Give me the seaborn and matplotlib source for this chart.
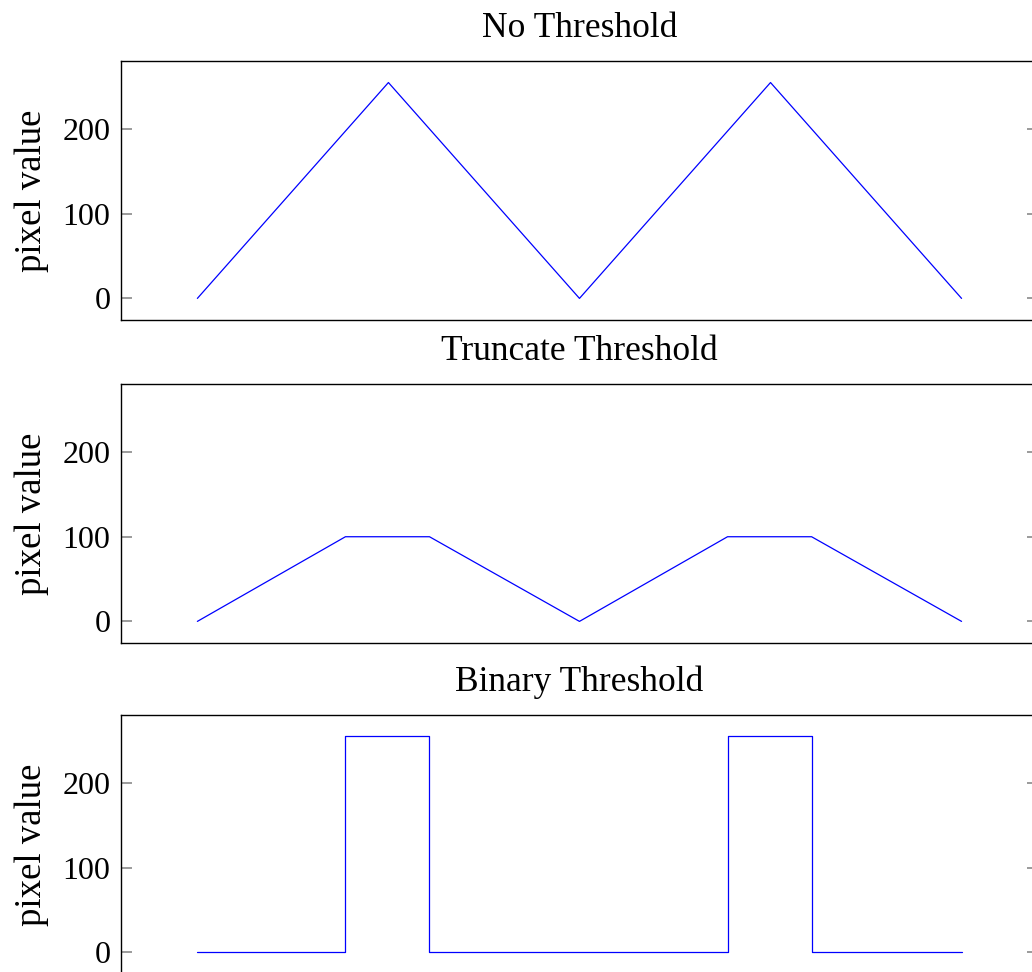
"""Pixel profile before and after thresholding, three stacked panels."""

import matplotlib

matplotlib.use("Agg")

import matplotlib.pyplot as plt
import pandas as pd
import seaborn as sns


# x positions along the scan line and the pixel value at each
NO_THRESH_X = [0, 1, 2, 3, 4]
NO_THRESH_Y = [0, 255, 0, 255, 0]

TRUNC_X = [0, 0.775, 1.215, 2, 2.775, 3.215, 4]
TRUNC_Y = [0, 100, 100, 0, 100, 100, 0]

BINARY_X = [0, 0.775, 0.775, 1.215, 1.215, 2.775, 2.775, 3.215, 3.215, 4]
BINARY_Y = [0, 0, 255, 255, 0, 0, 255, 255, 0, 0]

TITLES = ["No Threshold", "Truncate Threshold", "Binary Threshold"]
Y_TICKS = [0, 100, 200]

# axes boxes in figure fractions [left, bottom, width, height]
BOXES = [
    [0.1172, 0.6708, 0.8886, 0.2665],
    [0.1172, 0.3385, 0.8886, 0.2665],
    [0.1172, -0.002, 0.8886, 0.2665],
]


def main() -> None:
    sns.set_style("ticks")
    plt.rcParams["font.family"] = ["Liberation Serif", "DejaVu Serif"]
    plt.rcParams["text.color"] = "black"
    plt.rcParams["axes.labelcolor"] = "black"
    plt.rcParams["ytick.labelcolor"] = "black"

    series = [
        (NO_THRESH_X, NO_THRESH_Y),
        (TRUNC_X, TRUNC_Y),
        (BINARY_X, BINARY_Y),
    ]

    fig = plt.figure(figsize=(10.32, 9.72), dpi=100)
    for box, title, (xs, ys) in zip(BOXES, TITLES, series):
        ax = fig.add_axes(box)
        frame = pd.DataFrame({"x": xs, "y": ys})
        sns.lineplot(
            data=frame, x="x", y="y", ax=ax,
            estimator=None, sort=False, color="#0000ff", linewidth=0.9,
        )
        ax.set_xlim(-0.4, 4.4)
        ax.set_ylim(-25.5, 280.5)
        ax.set_xticks([])
        ax.set_yticks(Y_TICKS)
        ax.tick_params(
            axis="y", direction="in", left=True, right=True,
            length=8, width=1.1, color="#808080", labelcolor="black",
            pad=7.5, labelsize=23,
        )
        for spine in ax.spines.values():
            spine.set_visible(True)
            spine.set_color("black")
            spine.set_linewidth(1.0)
        ax.set_xlabel("")
        ax.set_ylabel("pixel value", fontsize=26.5, labelpad=10, color="black")
        ax.set_title(title, fontsize=25.5, pad=17.5, color="black")

    fig.savefig("out.png", dpi=100)
    plt.close(fig)


if __name__ == "__main__":
    main()
